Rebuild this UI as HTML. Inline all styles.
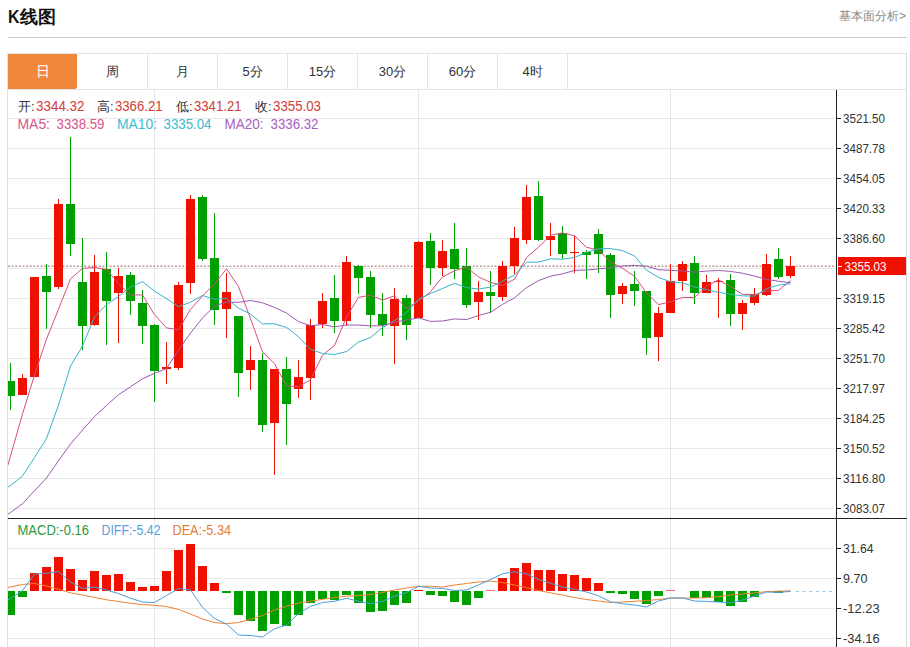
<!DOCTYPE html>
<html><head><meta charset="utf-8">
<style>
html,body{margin:0;padding:0;background:#fff;width:910px;height:647px;overflow:hidden;}
body{position:relative;font-family:"Liberation Sans",sans-serif;}
.title{position:absolute;left:7.5px;top:5px;font-size:17.5px;font-weight:bold;color:#111;line-height:24px;}
.more{position:absolute;left:839px;top:8.5px;font-size:12px;color:#888;line-height:14px;white-space:nowrap;}
.sep{position:absolute;left:8px;top:37px;width:899px;height:1px;background:#c8c8c8;}
.tabs{position:absolute;left:7px;top:53px;width:898px;height:35px;border:1px solid #e4e4e4;border-right:1px solid #d8d8d8;}
.tab{position:absolute;top:0;height:35px;width:70px;text-align:center;line-height:35px;font-size:13px;color:#333;border-right:1px solid #e4e4e4;box-sizing:border-box;}
.tab.on{background:#f0883c;color:#fff;border-right:none;width:69px;border-radius:0 0 2px 0;font-size:14px;}
.frame{position:absolute;left:7px;top:90px;width:898px;height:557px;border-left:1px solid #e0e0e0;border-right:1px solid #d8d8d8;}
svg{position:absolute;left:0;top:0;}
.ax{font-family:"Liberation Sans",sans-serif;font-size:12.5px;fill:#333;}
text{font-family:"Liberation Sans",sans-serif;}
.info{position:absolute;font-size:13px;line-height:16px;white-space:nowrap;}
</style></head><body>
<div class="title"><span style="font-size:18px;display:inline-block;transform:scaleX(0.88);transform-origin:0 0;margin-right:-1px">K</span>线图</div>
<div class="more">基本面分析&gt;</div>
<div class="sep"></div>
<div class="tabs">
<div class="tab on" style="left:0">日</div>
<div class="tab" style="left:70px">周</div>
<div class="tab" style="left:140px">月</div>
<div class="tab" style="left:210px">5分</div>
<div class="tab" style="left:280px">15分</div>
<div class="tab" style="left:350px">30分</div>
<div class="tab" style="left:420px">60分</div>
<div class="tab" style="left:490px">4时</div>
</div>
<div class="frame"></div>
<svg width="910" height="647" viewBox="0 0 910 647">
<defs>
<clipPath id="clipMain"><rect x="8" y="90" width="828" height="428"/></clipPath>
<clipPath id="clipMacd"><rect x="8" y="519" width="828" height="128"/></clipPath>
</defs>
<line x1="8" y1="118.5" x2="836" y2="118.5" stroke="#e8e8e8" stroke-width="1"/>
<line x1="8" y1="148.5" x2="836" y2="148.5" stroke="#e8e8e8" stroke-width="1"/>
<line x1="8" y1="178.5" x2="836" y2="178.5" stroke="#e8e8e8" stroke-width="1"/>
<line x1="8" y1="208.5" x2="836" y2="208.5" stroke="#e8e8e8" stroke-width="1"/>
<line x1="8" y1="238.5" x2="836" y2="238.5" stroke="#e8e8e8" stroke-width="1"/>
<line x1="8" y1="268.5" x2="836" y2="268.5" stroke="#e8e8e8" stroke-width="1"/>
<line x1="8" y1="298.5" x2="836" y2="298.5" stroke="#e8e8e8" stroke-width="1"/>
<line x1="8" y1="328.5" x2="836" y2="328.5" stroke="#e8e8e8" stroke-width="1"/>
<line x1="8" y1="358.5" x2="836" y2="358.5" stroke="#e8e8e8" stroke-width="1"/>
<line x1="8" y1="388.5" x2="836" y2="388.5" stroke="#e8e8e8" stroke-width="1"/>
<line x1="8" y1="418.5" x2="836" y2="418.5" stroke="#e8e8e8" stroke-width="1"/>
<line x1="8" y1="448.5" x2="836" y2="448.5" stroke="#e8e8e8" stroke-width="1"/>
<line x1="8" y1="478.5" x2="836" y2="478.5" stroke="#e8e8e8" stroke-width="1"/>
<line x1="8" y1="508.5" x2="836" y2="508.5" stroke="#e8e8e8" stroke-width="1"/>
<line x1="8" y1="548.5" x2="836" y2="548.5" stroke="#e8e8e8" stroke-width="1"/>
<line x1="8" y1="578.5" x2="836" y2="578.5" stroke="#e8e8e8" stroke-width="1"/>
<line x1="8" y1="608.5" x2="836" y2="608.5" stroke="#e8e8e8" stroke-width="1"/>
<line x1="8" y1="638.5" x2="836" y2="638.5" stroke="#e8e8e8" stroke-width="1"/>
<line x1="154.5" y1="90" x2="154.5" y2="647" stroke="#e3e6ea" stroke-width="1"/>
<line x1="418.5" y1="90" x2="418.5" y2="647" stroke="#e3e6ea" stroke-width="1"/>
<line x1="670.5" y1="90" x2="670.5" y2="647" stroke="#e3e6ea" stroke-width="1"/>
<line x1="8" y1="266.2" x2="836" y2="266.2" stroke="#c09a9a" stroke-width="1.6" stroke-dasharray="2,1.63"/>
<g clip-path="url(#clipMain)"><rect x="10" y="363" width="1" height="47" fill="#009f00"/><rect x="6" y="381" width="9" height="15" fill="#009f00"/><rect x="22" y="374" width="1" height="21" fill="#ee1100"/><rect x="18" y="378" width="9" height="17" fill="#ee1100"/><rect x="34" y="277" width="1" height="100" fill="#ee1100"/><rect x="30" y="277" width="9" height="100" fill="#ee1100"/><rect x="46" y="264" width="1" height="65" fill="#009f00"/><rect x="42" y="276" width="9" height="16" fill="#009f00"/><rect x="58" y="199" width="1" height="90" fill="#ee1100"/><rect x="54" y="204" width="9" height="83" fill="#ee1100"/><rect x="70" y="137" width="1" height="119" fill="#009f00"/><rect x="66" y="204" width="9" height="40" fill="#009f00"/><rect x="82" y="238" width="1" height="112" fill="#009f00"/><rect x="78" y="282" width="9" height="44" fill="#009f00"/><rect x="94" y="255" width="1" height="71" fill="#ee1100"/><rect x="90" y="272" width="9" height="53" fill="#ee1100"/><rect x="106" y="252" width="1" height="93" fill="#009f00"/><rect x="102" y="269" width="9" height="32" fill="#009f00"/><rect x="118" y="268" width="1" height="75" fill="#ee1100"/><rect x="114" y="276" width="9" height="17" fill="#ee1100"/><rect x="130" y="272" width="1" height="43" fill="#009f00"/><rect x="126" y="275" width="9" height="26" fill="#009f00"/><rect x="142" y="290" width="1" height="54" fill="#009f00"/><rect x="138" y="303" width="9" height="23" fill="#009f00"/><rect x="154" y="324" width="1" height="78" fill="#009f00"/><rect x="150" y="325" width="9" height="46" fill="#009f00"/><rect x="166" y="342" width="1" height="42" fill="#ee1100"/><rect x="162" y="367" width="9" height="2" fill="#ee1100"/><rect x="178" y="282" width="1" height="88" fill="#ee1100"/><rect x="174" y="285" width="9" height="83" fill="#ee1100"/><rect x="190" y="195" width="1" height="99" fill="#ee1100"/><rect x="186" y="199" width="9" height="84" fill="#ee1100"/><rect x="202" y="195" width="1" height="66" fill="#009f00"/><rect x="198" y="197" width="9" height="62" fill="#009f00"/><rect x="214" y="213" width="1" height="112" fill="#009f00"/><rect x="210" y="258" width="9" height="52" fill="#009f00"/><rect x="226" y="273" width="1" height="65" fill="#ee1100"/><rect x="222" y="292" width="9" height="17" fill="#ee1100"/><rect x="238" y="316" width="1" height="81" fill="#009f00"/><rect x="234" y="316" width="9" height="57" fill="#009f00"/><rect x="250" y="346" width="1" height="44" fill="#ee1100"/><rect x="246" y="360" width="9" height="10" fill="#ee1100"/><rect x="262" y="353" width="1" height="79" fill="#009f00"/><rect x="258" y="360" width="9" height="65" fill="#009f00"/><rect x="274" y="369" width="1" height="106" fill="#ee1100"/><rect x="270" y="369" width="9" height="54" fill="#ee1100"/><rect x="286" y="357" width="1" height="88" fill="#009f00"/><rect x="282" y="369" width="9" height="35" fill="#009f00"/><rect x="298" y="360" width="1" height="38" fill="#ee1100"/><rect x="294" y="377" width="9" height="12" fill="#ee1100"/><rect x="310" y="319" width="1" height="81" fill="#ee1100"/><rect x="306" y="325" width="9" height="53" fill="#ee1100"/><rect x="322" y="293" width="1" height="35" fill="#ee1100"/><rect x="318" y="301" width="9" height="23" fill="#ee1100"/><rect x="334" y="275" width="1" height="58" fill="#009f00"/><rect x="330" y="298" width="9" height="23" fill="#009f00"/><rect x="346" y="256" width="1" height="70" fill="#ee1100"/><rect x="342" y="262" width="9" height="59" fill="#ee1100"/><rect x="358" y="265" width="1" height="29" fill="#009f00"/><rect x="354" y="266" width="9" height="12" fill="#009f00"/><rect x="370" y="271" width="1" height="57" fill="#009f00"/><rect x="366" y="277" width="9" height="38" fill="#009f00"/><rect x="382" y="293" width="1" height="43" fill="#009f00"/><rect x="378" y="314" width="9" height="11" fill="#009f00"/><rect x="394" y="288" width="1" height="76" fill="#ee1100"/><rect x="390" y="299" width="9" height="27" fill="#ee1100"/><rect x="406" y="295" width="1" height="45" fill="#009f00"/><rect x="402" y="298" width="9" height="27" fill="#009f00"/><rect x="418" y="241" width="1" height="77" fill="#ee1100"/><rect x="414" y="242" width="9" height="76" fill="#ee1100"/><rect x="430" y="233" width="1" height="52" fill="#009f00"/><rect x="426" y="241" width="9" height="27" fill="#009f00"/><rect x="442" y="240" width="1" height="36" fill="#ee1100"/><rect x="438" y="251" width="9" height="17" fill="#ee1100"/><rect x="454" y="223" width="1" height="56" fill="#009f00"/><rect x="450" y="249" width="9" height="20" fill="#009f00"/><rect x="466" y="248" width="1" height="60" fill="#009f00"/><rect x="462" y="266" width="9" height="39" fill="#009f00"/><rect x="478" y="281" width="1" height="39" fill="#ee1100"/><rect x="474" y="292" width="9" height="10" fill="#ee1100"/><rect x="490" y="271" width="1" height="42" fill="#009f00"/><rect x="486" y="292" width="9" height="4" fill="#009f00"/><rect x="502" y="261" width="1" height="40" fill="#ee1100"/><rect x="498" y="266" width="9" height="31" fill="#ee1100"/><rect x="514" y="227" width="1" height="47" fill="#ee1100"/><rect x="510" y="238" width="9" height="28" fill="#ee1100"/><rect x="526" y="185" width="1" height="59" fill="#ee1100"/><rect x="522" y="197" width="9" height="43" fill="#ee1100"/><rect x="538" y="181" width="1" height="60" fill="#009f00"/><rect x="534" y="196" width="9" height="44" fill="#009f00"/><rect x="550" y="223" width="1" height="33" fill="#ee1100"/><rect x="546" y="236" width="9" height="4" fill="#ee1100"/><rect x="562" y="226" width="1" height="33" fill="#009f00"/><rect x="558" y="233" width="9" height="21" fill="#009f00"/><rect x="574" y="236" width="1" height="37" fill="#ee1100"/><rect x="570" y="252" width="9" height="1" fill="#ee1100"/><rect x="586" y="250" width="1" height="29" fill="#009f00"/><rect x="582" y="252" width="9" height="3" fill="#009f00"/><rect x="598" y="229" width="1" height="44" fill="#009f00"/><rect x="594" y="234" width="9" height="20" fill="#009f00"/><rect x="610" y="253" width="1" height="65" fill="#009f00"/><rect x="606" y="255" width="9" height="40" fill="#009f00"/><rect x="622" y="283" width="1" height="21" fill="#ee1100"/><rect x="618" y="286" width="9" height="8" fill="#ee1100"/><rect x="634" y="271" width="1" height="35" fill="#009f00"/><rect x="630" y="284" width="9" height="7" fill="#009f00"/><rect x="646" y="291" width="1" height="64" fill="#009f00"/><rect x="642" y="291" width="9" height="47" fill="#009f00"/><rect x="658" y="307" width="1" height="54" fill="#ee1100"/><rect x="654" y="313" width="9" height="24" fill="#ee1100"/><rect x="670" y="264" width="1" height="49" fill="#ee1100"/><rect x="666" y="281" width="9" height="32" fill="#ee1100"/><rect x="682" y="261" width="1" height="30" fill="#ee1100"/><rect x="678" y="264" width="9" height="17" fill="#ee1100"/><rect x="694" y="256" width="1" height="48" fill="#009f00"/><rect x="690" y="263" width="9" height="30" fill="#009f00"/><rect x="706" y="275" width="1" height="18" fill="#ee1100"/><rect x="702" y="282" width="9" height="11" fill="#ee1100"/><rect x="718" y="278" width="1" height="40" fill="#ee1100"/><rect x="714" y="281" width="9" height="1" fill="#ee1100"/><rect x="730" y="274" width="1" height="52" fill="#009f00"/><rect x="726" y="280" width="9" height="34" fill="#009f00"/><rect x="742" y="300" width="1" height="30" fill="#ee1100"/><rect x="738" y="303" width="9" height="11" fill="#ee1100"/><rect x="754" y="288" width="1" height="17" fill="#ee1100"/><rect x="750" y="294" width="9" height="9" fill="#ee1100"/><rect x="766" y="254" width="1" height="42" fill="#ee1100"/><rect x="762" y="264" width="9" height="31" fill="#ee1100"/><rect x="778" y="248" width="1" height="31" fill="#009f00"/><rect x="774" y="259" width="9" height="18" fill="#009f00"/><rect x="790" y="256" width="1" height="22" fill="#ee1100"/><rect x="786" y="266" width="9" height="10" fill="#ee1100"/></g>
<g clip-path="url(#clipMain)"><path d="M-1.5,497.00 L10.5,456.00 L22.5,414.00 L34.5,375.00 L46.5,339.00 L58.5,309.25 L70.5,278.90 L82.5,268.45 L94.5,267.45 L106.5,269.35 L118.5,283.60 L130.5,294.95 L142.5,294.95 L154.5,314.70 L166.5,327.85 L178.5,329.75 L190.5,309.40 L202.5,296.00 L214.5,283.90 L226.5,268.90 L238.5,286.55 L250.5,318.70 L262.5,351.85 L274.5,363.60 L286.5,385.95 L298.5,386.70 L310.5,379.80 L322.5,355.15 L334.5,345.50 L346.5,317.10 L358.5,297.30 L370.5,295.30 L382.5,300.05 L394.5,295.80 L406.5,308.35 L418.5,301.15 L430.5,291.80 L442.5,276.95 L454.5,270.85 L466.5,266.95 L478.5,276.95 L490.5,282.45 L502.5,285.45 L514.5,279.20 L526.5,257.60 L538.5,247.20 L550.5,235.30 L562.5,232.90 L574.5,235.75 L586.5,247.25 L598.5,250.10 L610.5,261.85 L622.5,268.35 L634.5,276.25 L646.5,293.00 L658.5,304.65 L670.5,301.75 L682.5,297.35 L694.5,297.60 L706.5,286.35 L718.5,279.95 L730.5,286.70 L742.5,294.35 L754.5,294.70 L766.5,291.05 L778.5,290.35 L790.5,280.65" fill="none" stroke="#d84c84" stroke-width="1"/><path d="M-1.5,492.00 L10.5,485.60 L22.5,476.00 L34.5,457.50 L46.5,438.50 L58.5,405.00 L70.5,366.00 L82.5,346.00 L94.5,317.00 L106.5,304.60 L118.5,296.43 L130.5,286.93 L142.5,281.70 L154.5,291.07 L166.5,298.60 L178.5,306.68 L190.5,302.18 L202.5,295.48 L214.5,299.30 L226.5,298.38 L238.5,308.15 L250.5,314.05 L262.5,323.93 L274.5,323.75 L286.5,327.43 L298.5,336.62 L310.5,349.25 L322.5,353.50 L334.5,354.55 L346.5,351.52 L358.5,342.00 L370.5,337.55 L382.5,327.60 L394.5,320.65 L406.5,312.73 L418.5,299.23 L430.5,293.55 L442.5,288.50 L454.5,283.32 L466.5,287.65 L478.5,289.05 L490.5,287.12 L502.5,281.20 L514.5,275.02 L526.5,262.27 L538.5,262.07 L550.5,258.88 L562.5,259.18 L574.5,257.48 L586.5,252.43 L598.5,248.65 L610.5,248.57 L622.5,250.62 L634.5,256.00 L646.5,270.12 L658.5,277.38 L670.5,281.80 L682.5,282.85 L694.5,286.93 L706.5,289.68 L718.5,292.30 L730.5,294.23 L742.5,295.85 L754.5,296.15 L766.5,288.70 L778.5,285.15 L790.5,283.68" fill="none" stroke="#34b4c8" stroke-width="1"/><path d="M-1.5,520.00 L10.5,512.50 L22.5,503.75 L34.5,490.75 L46.5,478.00 L58.5,460.70 L70.5,444.00 L82.5,430.00 L94.5,416.50 L106.5,405.50 L118.5,394.75 L130.5,386.80 L142.5,378.75 L154.5,373.30 L166.5,368.60 L178.5,350.00 L190.5,333.00 L202.5,318.00 L214.5,306.00 L226.5,302.00 L238.5,302.29 L250.5,300.49 L262.5,302.81 L274.5,307.41 L286.5,313.01 L298.5,321.65 L310.5,325.71 L322.5,324.49 L334.5,326.93 L346.5,324.95 L358.5,325.07 L370.5,325.80 L382.5,325.76 L394.5,322.20 L406.5,320.07 L418.5,317.93 L430.5,321.40 L442.5,321.00 L454.5,318.94 L466.5,319.59 L478.5,315.52 L490.5,312.34 L502.5,304.40 L514.5,297.84 L526.5,287.50 L538.5,280.65 L550.5,276.21 L562.5,273.84 L574.5,270.40 L586.5,270.04 L598.5,268.85 L610.5,267.85 L622.5,265.91 L634.5,265.51 L646.5,266.20 L658.5,269.73 L670.5,270.34 L682.5,271.01 L694.5,272.20 L706.5,271.05 L718.5,270.48 L730.5,271.40 L742.5,273.24 L754.5,276.07 L766.5,279.41 L778.5,281.26 L790.5,282.74" fill="none" stroke="#9c58b0" stroke-width="1"/></g>
<g clip-path="url(#clipMacd)"><line x1="796" y1="591.5" x2="836" y2="591.5" stroke="#9cc4e4" stroke-width="1" stroke-dasharray="3,3.6"/><rect x="6" y="591" width="9" height="24" fill="#009f00"/><rect x="18" y="591" width="9" height="6" fill="#009f00"/><rect x="30" y="573" width="9" height="18" fill="#ee1100"/><rect x="42" y="567" width="9" height="24" fill="#ee1100"/><rect x="54" y="557" width="9" height="34" fill="#ee1100"/><rect x="66" y="569" width="9" height="22" fill="#ee1100"/><rect x="78" y="580" width="9" height="11" fill="#ee1100"/><rect x="90" y="571" width="9" height="20" fill="#ee1100"/><rect x="102" y="575" width="9" height="16" fill="#ee1100"/><rect x="114" y="574" width="9" height="17" fill="#ee1100"/><rect x="126" y="582" width="9" height="9" fill="#ee1100"/><rect x="138" y="587" width="9" height="4" fill="#ee1100"/><rect x="150" y="586" width="9" height="5" fill="#ee1100"/><rect x="162" y="571" width="9" height="20" fill="#ee1100"/><rect x="174" y="550" width="9" height="41" fill="#ee1100"/><rect x="186" y="544" width="9" height="47" fill="#ee1100"/><rect x="198" y="566" width="9" height="25" fill="#ee1100"/><rect x="210" y="583" width="9" height="8" fill="#ee1100"/><rect x="222" y="591" width="9" height="2" fill="#009f00"/><rect x="234" y="591" width="9" height="24" fill="#009f00"/><rect x="246" y="591" width="9" height="30" fill="#009f00"/><rect x="258" y="591" width="9" height="40" fill="#009f00"/><rect x="270" y="591" width="9" height="33" fill="#009f00"/><rect x="282" y="591" width="9" height="35" fill="#009f00"/><rect x="294" y="591" width="9" height="24" fill="#009f00"/><rect x="306" y="591" width="9" height="12" fill="#009f00"/><rect x="318" y="591" width="9" height="8" fill="#009f00"/><rect x="330" y="591" width="9" height="9" fill="#009f00"/><rect x="342" y="591" width="9" height="4" fill="#009f00"/><rect x="354" y="591" width="9" height="12" fill="#009f00"/><rect x="366" y="591" width="9" height="21" fill="#009f00"/><rect x="378" y="591" width="9" height="20" fill="#009f00"/><rect x="390" y="591" width="9" height="14" fill="#009f00"/><rect x="402" y="591" width="9" height="12" fill="#009f00"/><rect x="414" y="590" width="9" height="1" fill="#ee1100"/><rect x="426" y="591" width="9" height="4" fill="#009f00"/><rect x="438" y="591" width="9" height="5" fill="#009f00"/><rect x="450" y="591" width="9" height="11" fill="#009f00"/><rect x="462" y="591" width="9" height="14" fill="#009f00"/><rect x="474" y="591" width="9" height="7" fill="#009f00"/><rect x="486" y="590" width="9" height="1" fill="#e05050" opacity="0.8"/><rect x="498" y="578" width="9" height="13" fill="#ee1100"/><rect x="510" y="568" width="9" height="23" fill="#ee1100"/><rect x="522" y="563" width="9" height="28" fill="#ee1100"/><rect x="534" y="570" width="9" height="21" fill="#ee1100"/><rect x="546" y="570" width="9" height="21" fill="#ee1100"/><rect x="558" y="574" width="9" height="17" fill="#ee1100"/><rect x="570" y="575" width="9" height="16" fill="#ee1100"/><rect x="582" y="578" width="9" height="13" fill="#ee1100"/><rect x="594" y="583" width="9" height="8" fill="#ee1100"/><rect x="606" y="591" width="9" height="2" fill="#009f00"/><rect x="618" y="591" width="9" height="3" fill="#009f00"/><rect x="630" y="591" width="9" height="8" fill="#009f00"/><rect x="642" y="591" width="9" height="13" fill="#009f00"/><rect x="654" y="591" width="9" height="5" fill="#009f00"/><rect x="666" y="590" width="9" height="1" fill="#e05050" opacity="0.8"/><rect x="690" y="591" width="9" height="7" fill="#009f00"/><rect x="702" y="591" width="9" height="7" fill="#009f00"/><rect x="714" y="591" width="9" height="11" fill="#009f00"/><rect x="726" y="591" width="9" height="15" fill="#009f00"/><rect x="738" y="591" width="9" height="11" fill="#009f00"/><rect x="750" y="591" width="9" height="6" fill="#009f00"/><rect x="774" y="591" width="9" height="2" fill="#009f00"/><path d="M-1.5,588.00 L10.5,587.00 L22.5,584.50 L34.5,583.50 L46.5,586.00 L58.5,589.30 L70.5,592.80 L82.5,595.00 L94.5,597.40 L106.5,599.80 L118.5,601.50 L130.5,603.30 L142.5,604.50 L154.5,605.30 L166.5,606.50 L178.5,609.50 L190.5,614.00 L202.5,619.00 L214.5,622.50 L226.5,623.70 L238.5,622.50 L250.5,619.50 L262.5,615.50 L274.5,610.00 L286.5,606.25 L298.5,603.00 L310.5,601.25 L322.5,599.25 L334.5,597.50 L346.5,596.25 L358.5,595.50 L370.5,594.50 L382.5,592.50 L394.5,590.00 L406.5,588.00 L418.5,586.25 L430.5,586.25 L442.5,587.00 L454.5,585.00 L466.5,583.50 L478.5,582.00 L490.5,581.00 L502.5,582.50 L514.5,585.00 L526.5,587.50 L538.5,590.50 L550.5,592.80 L562.5,595.00 L574.5,597.50 L586.5,599.50 L598.5,601.00 L610.5,602.50 L622.5,602.00 L634.5,601.25 L646.5,600.50 L658.5,599.50 L670.5,598.00 L682.5,598.00 L694.5,598.00 L706.5,597.60 L718.5,596.60 L730.5,595.00 L742.5,594.00 L754.5,593.00 L766.5,591.60 L778.5,591.20 L790.5,590.80" fill="none" stroke="#f08030" stroke-width="1"/><path d="M-1.5,605.00 L10.5,598.50 L22.5,590.50 L34.5,574.00 L46.5,573.20 L58.5,571.50 L70.5,582.00 L82.5,588.50 L94.5,587.00 L106.5,590.00 L118.5,593.50 L130.5,598.20 L142.5,602.00 L154.5,602.50 L166.5,595.50 L178.5,588.50 L190.5,590.00 L202.5,607.30 L214.5,618.50 L226.5,624.00 L238.5,635.00 L250.5,635.50 L262.5,637.00 L274.5,628.75 L286.5,625.00 L298.5,613.75 L310.5,606.25 L322.5,602.50 L334.5,601.25 L346.5,598.25 L358.5,601.25 L370.5,603.75 L382.5,601.25 L394.5,596.25 L406.5,592.50 L418.5,586.25 L430.5,588.00 L442.5,588.50 L454.5,590.50 L466.5,590.00 L478.5,585.00 L490.5,579.50 L502.5,573.75 L514.5,571.75 L526.5,573.75 L538.5,579.50 L550.5,583.25 L562.5,587.00 L574.5,589.25 L586.5,592.00 L598.5,595.75 L610.5,601.75 L622.5,603.75 L634.5,605.00 L646.5,607.00 L658.5,601.00 L670.5,598.00 L682.5,598.00 L694.5,601.00 L706.5,601.40 L718.5,602.00 L730.5,603.00 L742.5,600.00 L754.5,596.00 L766.5,592.00 L778.5,592.40 L790.5,591.40" fill="none" stroke="#4a9ee0" stroke-width="1"/></g>
<rect x="836" y="90" width="1" height="557" fill="#222"/>
<rect x="8" y="518" width="899" height="1" fill="#222"/>
<rect x="837" y="118" width="4" height="1" fill="#222"/>
<text x="843" y="122.7" class="ax" textLength="42" lengthAdjust="spacingAndGlyphs">3521.50</text>
<rect x="837" y="148" width="4" height="1" fill="#222"/>
<text x="843" y="152.7" class="ax" textLength="42" lengthAdjust="spacingAndGlyphs">3487.78</text>
<rect x="837" y="178" width="4" height="1" fill="#222"/>
<text x="843" y="182.7" class="ax" textLength="42" lengthAdjust="spacingAndGlyphs">3454.05</text>
<rect x="837" y="208" width="4" height="1" fill="#222"/>
<text x="843" y="212.7" class="ax" textLength="42" lengthAdjust="spacingAndGlyphs">3420.33</text>
<rect x="837" y="238" width="4" height="1" fill="#222"/>
<text x="843" y="242.7" class="ax" textLength="42" lengthAdjust="spacingAndGlyphs">3386.60</text>
<rect x="837" y="298" width="4" height="1" fill="#222"/>
<text x="843" y="302.7" class="ax" textLength="42" lengthAdjust="spacingAndGlyphs">3319.15</text>
<rect x="837" y="328" width="4" height="1" fill="#222"/>
<text x="843" y="332.7" class="ax" textLength="42" lengthAdjust="spacingAndGlyphs">3285.42</text>
<rect x="837" y="358" width="4" height="1" fill="#222"/>
<text x="843" y="362.7" class="ax" textLength="42" lengthAdjust="spacingAndGlyphs">3251.70</text>
<rect x="837" y="388" width="4" height="1" fill="#222"/>
<text x="843" y="392.7" class="ax" textLength="42" lengthAdjust="spacingAndGlyphs">3217.97</text>
<rect x="837" y="418" width="4" height="1" fill="#222"/>
<text x="843" y="422.7" class="ax" textLength="42" lengthAdjust="spacingAndGlyphs">3184.25</text>
<rect x="837" y="448" width="4" height="1" fill="#222"/>
<text x="843" y="452.7" class="ax" textLength="42" lengthAdjust="spacingAndGlyphs">3150.52</text>
<rect x="837" y="478" width="4" height="1" fill="#222"/>
<text x="843" y="482.7" class="ax" textLength="42" lengthAdjust="spacingAndGlyphs">3116.80</text>
<rect x="837" y="508" width="4" height="1" fill="#222"/>
<text x="843" y="512.7" class="ax" textLength="42" lengthAdjust="spacingAndGlyphs">3083.07</text>
<rect x="837" y="548" width="4" height="1" fill="#222"/>
<text x="843" y="552.7" class="ax" textLength="30.5" lengthAdjust="spacingAndGlyphs">31.64</text>
<rect x="837" y="578" width="4" height="1" fill="#222"/>
<text x="843" y="582.7" class="ax" textLength="24.4" lengthAdjust="spacingAndGlyphs">9.70</text>
<rect x="837" y="608" width="4" height="1" fill="#222"/>
<text x="843" y="612.7" class="ax" textLength="36.599999999999994" lengthAdjust="spacingAndGlyphs">-12.23</text>
<rect x="837" y="638" width="4" height="1" fill="#222"/>
<text x="843" y="642.7" class="ax" textLength="36.599999999999994" lengthAdjust="spacingAndGlyphs">-34.16</text>
<rect x="838" y="257" width="68" height="18" fill="#f01000"/><rect x="838" y="266" width="4" height="1" fill="#fff"/>
<text x="844.5" y="270.7" class="ax" style="fill:#fff" textLength="42" lengthAdjust="spacingAndGlyphs">3355.03</text>
<text x="18" y="111" font-size="13" fill="#333" >开:</text>
<text x="36" y="111" font-size="14" fill="#cf3d38" textLength="48.5" lengthAdjust="spacingAndGlyphs" >3344.32</text>
<text x="97" y="111" font-size="13" fill="#333" >高:</text>
<text x="115" y="111" font-size="14" fill="#cf3d38" textLength="47.5" lengthAdjust="spacingAndGlyphs" >3366.21</text>
<text x="176" y="111" font-size="13" fill="#333" >低:</text>
<text x="194" y="111" font-size="14" fill="#cf3d38" textLength="47.5" lengthAdjust="spacingAndGlyphs" >3341.21</text>
<text x="255" y="111" font-size="13" fill="#333" >收:</text>
<text x="273" y="111" font-size="14" fill="#cf3d38" textLength="48" lengthAdjust="spacingAndGlyphs" >3355.03</text>
<text x="17.5" y="128.5" font-size="14" fill="#d6558a" textLength="32.5" lengthAdjust="spacingAndGlyphs" >MA5:</text>
<text x="56.5" y="128.5" font-size="14" fill="#d6558a" textLength="48" lengthAdjust="spacingAndGlyphs" >3338.59</text>
<text x="117" y="128.5" font-size="14" fill="#3cbcd0" textLength="40" lengthAdjust="spacingAndGlyphs" >MA10:</text>
<text x="163.5" y="128.5" font-size="14" fill="#3cbcd0" textLength="48" lengthAdjust="spacingAndGlyphs" >3335.04</text>
<text x="224.5" y="128.5" font-size="14" fill="#a860c0" textLength="39" lengthAdjust="spacingAndGlyphs" >MA20:</text>
<text x="270.5" y="128.5" font-size="14" fill="#a860c0" textLength="48" lengthAdjust="spacingAndGlyphs" >3336.32</text>
<text x="17.5" y="534.5" font-size="14" fill="#2a9a3a" textLength="71.5" lengthAdjust="spacingAndGlyphs" >MACD:-0.16</text>
<text x="101.5" y="534.5" font-size="14" fill="#5a9fd8" textLength="59" lengthAdjust="spacingAndGlyphs" >DIFF:-5.42</text>
<text x="172.5" y="534.5" font-size="14" fill="#e0803a" textLength="58.5" lengthAdjust="spacingAndGlyphs" >DEA:-5.34</text>
</svg>
</body></html>
